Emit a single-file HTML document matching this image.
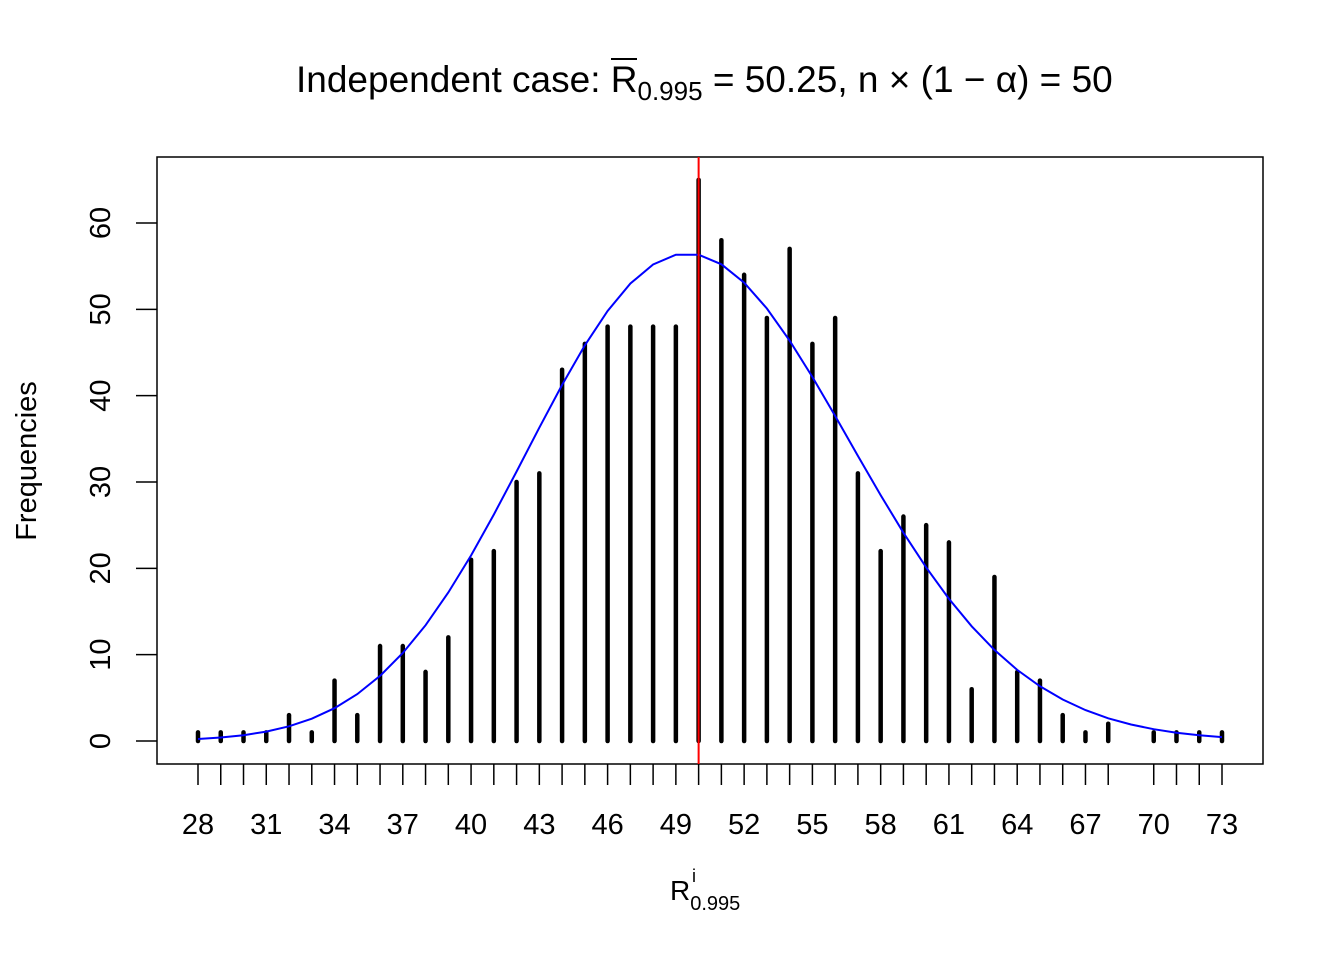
<!DOCTYPE html>
<html><head><meta charset="utf-8"><style>body{margin:0;background:#fff}svg{display:block}text{font-family:"Liberation Sans",Arial,sans-serif;fill:#000}</style></head>
<body>
<svg id="s" width="1344" height="960" xmlns="http://www.w3.org/2000/svg">
<rect x="157" y="157" width="1106" height="607" fill="none" stroke="#000" stroke-width="1.5"/>
<g id="g"></g>
<text x="296" y="92" font-size="37">Independent case: R<tspan font-size="26" dy="8">0.995</tspan><tspan dy="-8"> = 50.25, n × (1 − α) = 50</tspan></text>
<line x1="611" y1="59" x2="637" y2="59" stroke="#000" stroke-width="2"/>
<text x="670" y="900" font-size="28">R<tspan font-size="20" dy="10">0.995</tspan></text>
<text x="692" y="882" font-size="18">i</text>
<text transform="translate(36,461) rotate(-90)" font-size="29" text-anchor="middle">Frequencies</text>
</svg>
<script>
var g=document.getElementById('g'),h='';
var X=function(v){return 198+(v-28)*1024/45},Y=function(v){return 741-v*518/60};
var d={28:1,29:1,30:1,31:1,32:3,33:1,34:7,35:3,36:11,37:11,38:8,39:12,40:21,41:22,42:30,43:31,44:43,45:46,46:48,47:48,48:48,49:48,50:65,51:58,52:54,53:49,54:57,55:46,56:49,57:31,58:22,59:26,60:25,61:23,62:6,63:19,64:8,65:7,66:3,67:1,68:2,70:1,71:1,72:1,73:1};
for(var k in d){var x=X(+k);h+='<line x1="'+x+'" y1="741" x2="'+x+'" y2="'+Y(d[k])+'" stroke="#000" stroke-width="4.5" stroke-linecap="round"/>';h+='<line x1="'+x+'" y1="764" x2="'+x+'" y2="785" stroke="#000" stroke-width="1.5"/>';}
for(var v=28;v<=73;v+=3)h+='<text x="'+X(v)+'" y="834" font-size="29" text-anchor="middle">'+v+'</text>';
for(var v=0;v<=60;v+=10){var y=Y(v);h+='<line x1="136" y1="'+y+'" x2="157" y2="'+y+'" stroke="#000" stroke-width="1.5"/>';h+='<text transform="translate(110,'+y+') rotate(-90)" font-size="29" text-anchor="middle">'+v+'</text>';}
var p=[];for(var v=28;v<=73;v++){var lf=0;for(var i=2;i<=v;i++)lf+=Math.log(i);var f=1000*Math.exp(v*Math.log(50)-50-lf);p.push(X(v).toFixed(1)+','+Y(f).toFixed(1));}
h+='<polyline points="'+p.join(' ')+'" fill="none" stroke="#00f" stroke-width="2"/>';
h+='<line x1="'+X(50)+'" y1="157" x2="'+X(50)+'" y2="764" stroke="#f00" stroke-width="2"/>';
g.innerHTML=h;
</script>
</body></html>
